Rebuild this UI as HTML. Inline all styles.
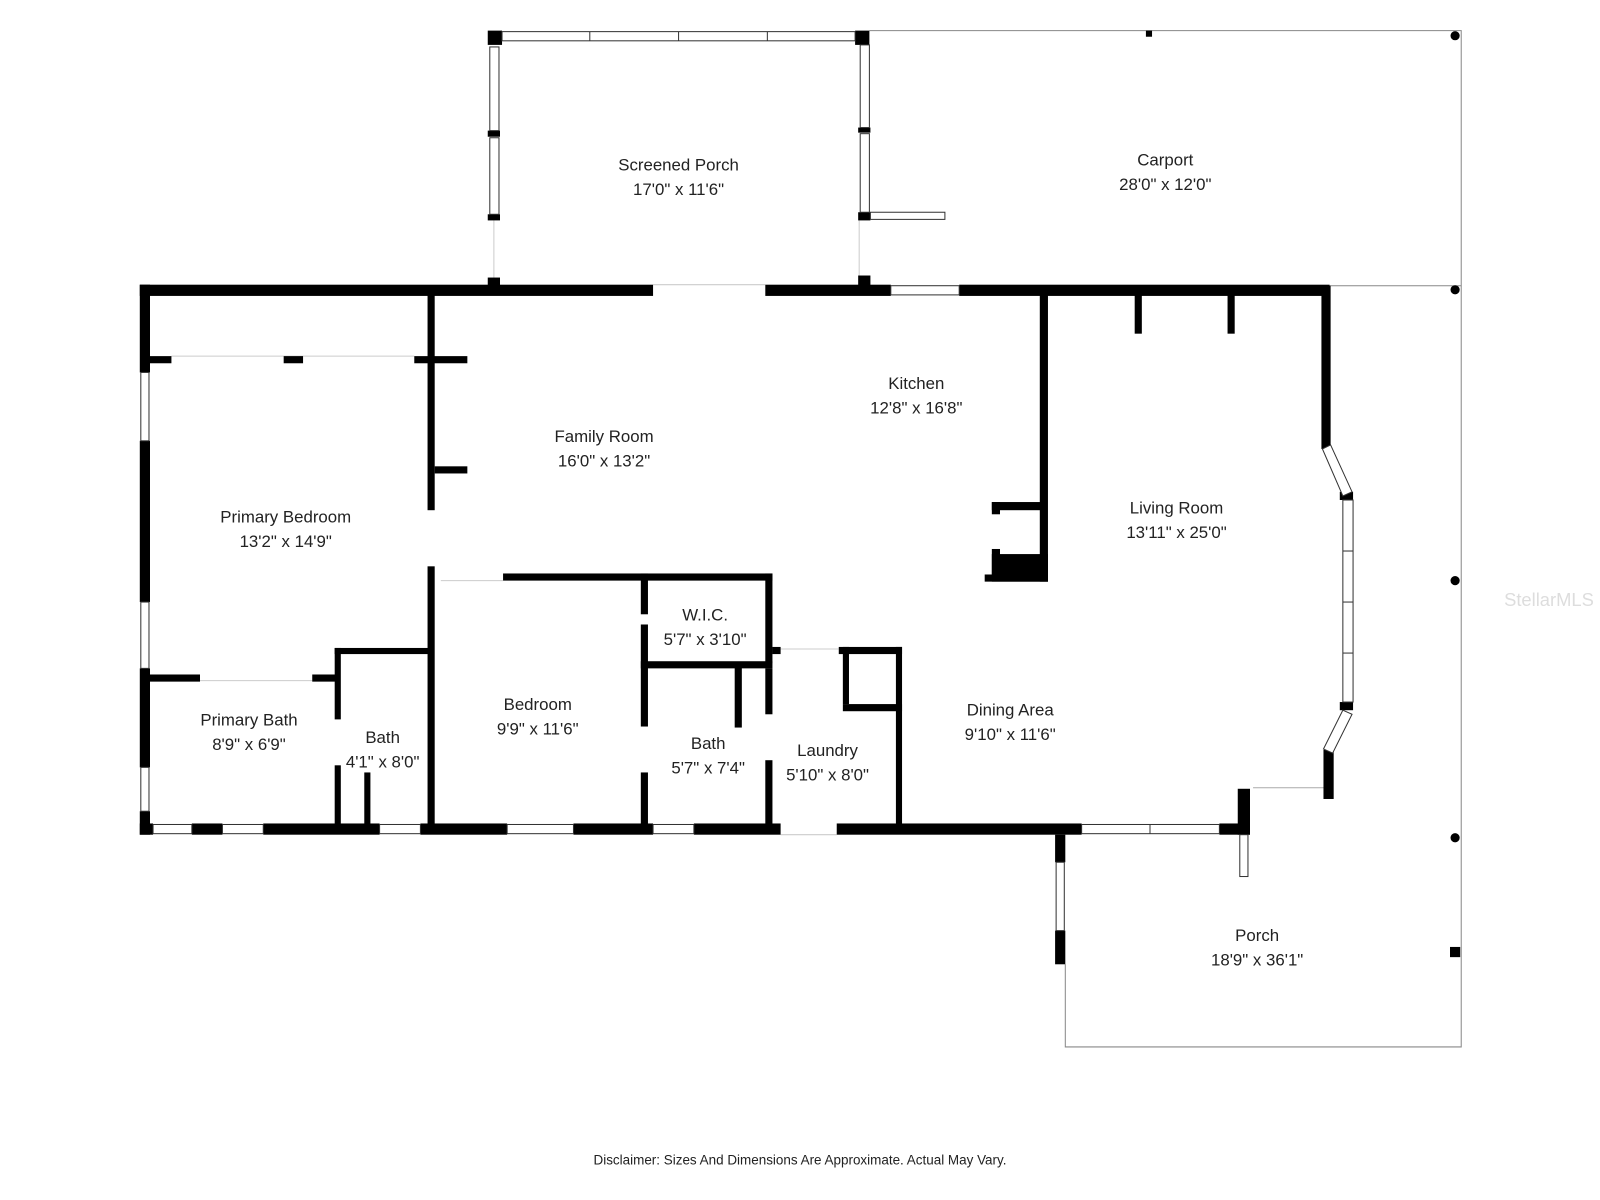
<!DOCTYPE html>
<html><head><meta charset="utf-8"><style>
html,body{margin:0;padding:0;background:#fff;}
svg{display:block}
text{font-family:"Liberation Sans",sans-serif;fill:#222;text-anchor:middle;font-size:16.5px}
</style></head><body>
<svg width="1600" height="1200" viewBox="0 0 1568 1176" xmlns="http://www.w3.org/2000/svg">
<rect width="1568" height="1176" fill="#fff"/>
<g fill="none" stroke="#888" stroke-width="1">
<polyline points="852,30 1432,30 1432,1026 1044,1026 1044,945"/>
<line x1="1303" y1="280" x2="1432" y2="280"/>
<line x1="484" y1="215" x2="484" y2="278" stroke="#ccc"/>
<line x1="842" y1="215" x2="842" y2="278" stroke="#ccc"/>
<line x1="640" y1="279" x2="750" y2="279" stroke="#ccc"/>
<line x1="1228" y1="772" x2="1297" y2="772" stroke="#aaa"/>
<line x1="168" y1="349" x2="406" y2="349" stroke="#ccc"/>
<line x1="196" y1="667" x2="306" y2="667" stroke="#ccc"/>
<line x1="432" y1="569" x2="493" y2="569" stroke="#ccc"/>
<line x1="765" y1="818" x2="820" y2="818" stroke="#ccc"/>
<line x1="765" y1="636" x2="822" y2="636" stroke="#ccc"/>
</g>
<g fill="#000">
<rect x="478" y="30" width="14" height="14"/>
<rect x="838" y="30" width="14" height="14"/>
<rect x="478" y="128" width="12" height="6"/>
<rect x="478" y="210" width="12" height="6"/>
<rect x="841" y="125" width="12" height="5"/>
<rect x="841" y="208" width="12" height="8"/>
<rect x="478" y="272" width="12" height="8"/>
<rect x="841" y="270" width="12" height="10"/>
<rect x="1123" y="30" width="6" height="6"/>
<rect x="137" y="279" width="503" height="11"/>
<rect x="750" y="279" width="123" height="11"/>
<rect x="940" y="279" width="363" height="11"/>
<rect x="137" y="279" width="10" height="86"/>
<rect x="137" y="432" width="10" height="158"/>
<rect x="137" y="655" width="10" height="97"/>
<rect x="137" y="795" width="10" height="23"/>
<rect x="137" y="807" width="13" height="11"/>
<rect x="188" y="807" width="30" height="11"/>
<rect x="258" y="807" width="114" height="11"/>
<rect x="412" y="807" width="85" height="11"/>
<rect x="562" y="807" width="78" height="11"/>
<rect x="680" y="807" width="85" height="11"/>
<rect x="820" y="807" width="240" height="11"/>
<rect x="1195" y="807" width="30" height="11"/>
<rect x="1213" y="773" width="12" height="45"/>
<rect x="1034" y="818" width="10" height="27"/>
<rect x="1034" y="912" width="10" height="33"/>
<rect x="419" y="285" width="7" height="215"/>
<rect x="419" y="555" width="7" height="258"/>
<rect x="142" y="349" width="26" height="7"/>
<rect x="278" y="349" width="19" height="7"/>
<rect x="406" y="349" width="52" height="7"/>
<rect x="426" y="457" width="32" height="7"/>
<rect x="142" y="661" width="54" height="7"/>
<rect x="306" y="661" width="24" height="7"/>
<rect x="328" y="635" width="6" height="70"/>
<rect x="328" y="750" width="6" height="63"/>
<rect x="328" y="635" width="94" height="6"/>
<rect x="357" y="757" width="6" height="56"/>
<rect x="493" y="562" width="264" height="7"/>
<rect x="628" y="562" width="7" height="40"/>
<rect x="628" y="612" width="7" height="100"/>
<rect x="628" y="757" width="7" height="56"/>
<rect x="628" y="648" width="129" height="7"/>
<rect x="750" y="562" width="7" height="88"/>
<rect x="750" y="655" width="7" height="45"/>
<rect x="750" y="745" width="7" height="68"/>
<rect x="720" y="650" width="7" height="63"/>
<rect x="757" y="634" width="8" height="7"/>
<rect x="822" y="634" width="62" height="7"/>
<rect x="878" y="634" width="6" height="174"/>
<rect x="826" y="634" width="6" height="56"/>
<rect x="826" y="690" width="58" height="7"/>
<rect x="1019" y="285" width="8" height="285"/>
<rect x="972" y="492" width="50" height="8"/>
<rect x="972" y="492" width="8" height="12"/>
<rect x="972" y="538" width="8" height="30"/>
<rect x="972" y="543" width="55" height="27"/>
<rect x="965" y="563" width="62" height="7"/>
<rect x="1112" y="285" width="7" height="42"/>
<rect x="1203" y="285" width="7" height="42"/>
<rect x="1295" y="280" width="9" height="160"/>
<rect x="1313" y="482" width="13" height="8"/>
<rect x="1313" y="688" width="13" height="8"/>
<rect x="1297" y="735" width="10" height="48"/>
<circle cx="1426" cy="35" r="4.5"/>
<circle cx="1426" cy="284" r="4.5"/>
<circle cx="1426" cy="569" r="4.5"/>
<circle cx="1426" cy="821" r="4.5"/>
<rect x="1421" y="928" width="10" height="10"/>
</g>
<g fill="#fff" stroke="#333" stroke-width="1">
<rect x="492" y="31" width="346" height="9"/>
<line x1="578" y1="31" x2="578" y2="40"/><line x1="665" y1="31" x2="665" y2="40"/><line x1="752" y1="31" x2="752" y2="40"/>
<rect x="480" y="46" width="9" height="82"/>
<rect x="480" y="135" width="9" height="75"/>
<rect x="843" y="44" width="9" height="81"/>
<rect x="843" y="131" width="9" height="77"/>
<rect x="853" y="208" width="73" height="7"/>
<rect x="873" y="280" width="67" height="9"/>
<rect x="138" y="365" width="8" height="67"/>
<rect x="138" y="590" width="8" height="65"/>
<rect x="138" y="752" width="8" height="43"/>
<rect x="150" y="808" width="38" height="9"/>
<rect x="218" y="808" width="40" height="9"/>
<rect x="372" y="808" width="40" height="9"/>
<rect x="497" y="808" width="65" height="9"/>
<rect x="640" y="808" width="40" height="9"/>
<rect x="1060" y="808" width="135" height="9"/>
<line x1="1127" y1="808" x2="1127" y2="817"/>
<rect x="1035" y="845" width="8" height="67"/>
<rect x="1215" y="818" width="8" height="41"/>
<rect x="1316" y="490" width="10" height="198"/>
<line x1="1316" y1="540" x2="1326" y2="540"/><line x1="1316" y1="590" x2="1326" y2="590"/><line x1="1316" y1="640" x2="1326" y2="640"/>
<polygon points="1296,440 1304,436 1325,482 1316,486"/>
<polygon points="1316,696 1325,700 1306,738 1297,734"/>
</g>
<text x="665" y="167">Screened Porch</text><text x="665" y="191">17'0" x 11'6"</text>
<text x="1142" y="162">Carport</text><text x="1142" y="186">28'0" x 12'0"</text>
<text x="898" y="381">Kitchen</text><text x="898" y="405">12'8" x 16'8"</text>
<text x="592" y="433">Family Room</text><text x="592" y="457">16'0" x 13'2"</text>
<text x="280" y="512">Primary Bedroom</text><text x="280" y="536">13'2" x 14'9"</text>
<text x="1153" y="503">Living Room</text><text x="1153" y="527">13'11" x 25'0"</text>
<text x="691" y="608">W.I.C.</text><text x="691" y="632">5'7" x 3'10"</text>
<text x="990" y="701">Dining Area</text><text x="990" y="725">9'10" x 11'6"</text>
<text x="527" y="696">Bedroom</text><text x="527" y="720">9'9" x 11'6"</text>
<text x="244" y="711">Primary Bath</text><text x="244" y="735">8'9" x 6'9"</text>
<text x="375" y="728">Bath</text><text x="375" y="752">4'1" x 8'0"</text>
<text x="694" y="734">Bath</text><text x="694" y="758">5'7" x 7'4"</text>
<text x="811" y="741">Laundry</text><text x="811" y="765">5'10" x 8'0"</text>
<text x="1232" y="922">Porch</text><text x="1232" y="946">18'9" x 36'1"</text>
<text x="784" y="1141" style="font-size:13.2px">Disclaimer: Sizes And Dimensions Are Approximate. Actual May Vary.</text>
<text x="1518" y="594" style="font-size:18px;fill:#ddd">StellarMLS</text>
</svg>
</body></html>
